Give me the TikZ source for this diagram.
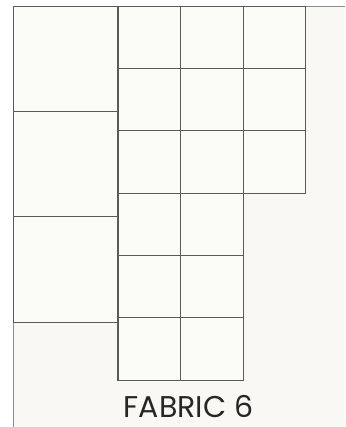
\documentclass[tikz,border=0pt]{standalone}
\usepackage{fontspec}
\setmainfont{Poppins}
\definecolor{panel}{HTML}{F9F8F4}
\definecolor{patch}{HTML}{FBFBF7}
\definecolor{seam}{HTML}{5A5A5A}
\begin{document}
\begin{tikzpicture}[x=1pt,y=-1pt]
\useasboundingbox (0,0) rectangle (345,427);
\fill[white] (0,0) rectangle (345,427);
\fill[panel] (13.3,6.3) rectangle (345,427);
\draw[black!45,line width=1pt] (345,6.3)--(13.3,6.3)--(13.3,427);
% big blocks on the left
\foreach \k in {0,1,2}
 \draw[seam,line width=1.1pt,fill=patch] (13.3,6.3+105.3*\k) rectangle (118,111.6+105.3*\k);
% two full columns of small squares
\foreach \i in {0,1}{
 \foreach \j in {0,...,5}{
  \draw[seam,line width=1.1pt,fill=patch] (118+62.6*\i,6.3+62.3*\j) rectangle ++(62.6,62.3);
 }
}
% short third column
\foreach \j in {0,1,2}
 \draw[seam,line width=1.1pt,fill=patch] (243.2,6.3+62.3*\j) rectangle ++(62.6,62.3);
\node[anchor=base,inner sep=0pt,text=black!85,font=\fontsize{30}{30}\selectfont] (label) at (188.5,417) {FABRIC 6};
\end{tikzpicture}
\end{document}
